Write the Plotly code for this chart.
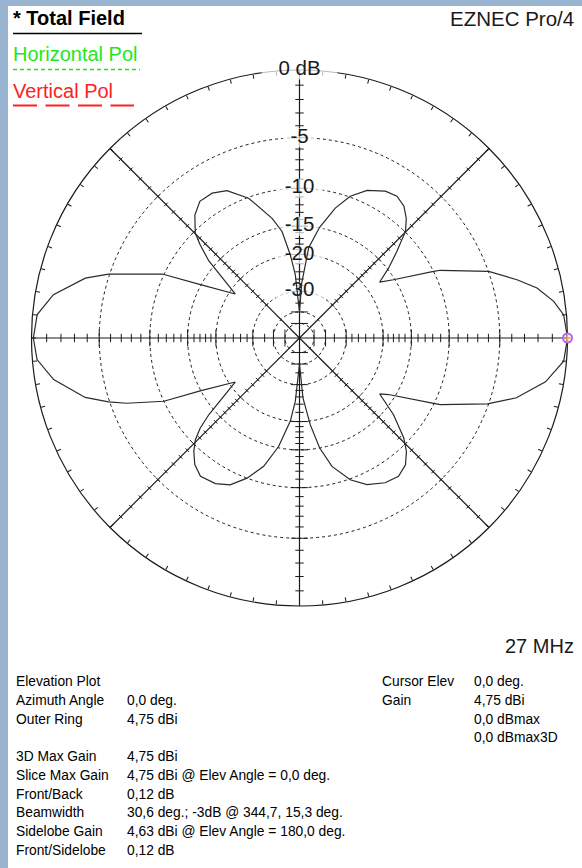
import numpy as np
import plotly.graph_objects as go

W, H = 582, 868

# ---------------- data ----------------
# Elevation angle (deg) and relative gain (dB, 0 dB = 4.75 dBi)
theta_deg = [0, 5.0, 8.2, 11.9, 15.0, 19.4, 25.7, 26.4, 31.8, 34.9, 38.1, 41.6, 45.2,
             48.3, 51.6, 55.5, 59.7, 65.4, 70.3, 74.6, 79.7, 84.2, 87.7, 90,
             93.8, 96.3, 99.3, 102.9, 110.0, 116.2, 121.1, 126.1, 130.4, 134.8,
             136.8, 139.6, 145.6, 151.7, 155.0, 161.5, 164.4, 170.0, 174.9, 180,
             184.7, 189.6, 195.5, 198.5, 200.7, 205.0, 208.0, 214.4, 220.2, 222.2,
             224.3, 227.0, 230.4, 234.4, 240.0, 244.7, 249.5, 254.4, 259.1, 263.7,
             266.2, 270,
             273.3, 277.1, 280.4, 284.2, 289.7, 294.7, 300.6, 305.6, 309.9, 313.3,
             316.2, 320.8, 325.1, 327.6, 334.0, 334.7, 340.7, 344.6, 349.9, 355.0, 360]
gain_db = [0.0, -0.18, -0.73, -1.70, -2.99, -4.97, -9.27, -9.99, -15.2, -17.3, -14.8, -12.4, -9.9,
           -8.8, -8.0, -7.6, -7.8, -8.6, -9.9, -11.8, -14.9, -18.6, -27.3, -40.0,
           -24.7, -20.0, -15.6, -13.4, -10.1, -8.4, -7.9, -7.9, -8.7, -10.2,
           -11.6, -13.9, -21.2, -14.9, -9.8, -4.9, -3.2, -1.2, -0.3, -0.12,
           -0.3, -1.24, -3.2, -4.9, -6.4, -10.0, -14.9, -21.2, -14.0, -11.9,
           -10.5, -9.4, -8.4, -7.8, -8.0, -8.6, -10.0, -12.0, -15.2, -20.0,
           -24.7, -40.0,
           -25.7, -19.2, -15.0, -12.1, -9.9, -8.7, -8.0, -7.8, -8.3, -9.3,
           -10.6, -13.6, -17.3, -16.0, -10.05, -9.3, -5.1, -3.0, -1.2, -0.18, 0.0]

ring_db = [-5, -10, -15, -20, -30, -40, -50]
label_db = [0, -5, -10, -15, -20, -30]
label_text = ["0 dB", "-5", "-10", "-15", "-20", "-30"]
label_box_w = [54, 24, 34, 34, 34, 34]

minor_db = [-1, -2, -3, -4, -6, -7, -8, -9, -11, -12, -13, -14, -16, -17, -18, -19,
            -22, -24, -26, -28, -35]
diag_db = list(range(-1, -21, -1)) + [-22, -24, -26, -28, -30]

info_labels = ["Elevation Plot", "Azimuth Angle", "Outer Ring", "3D Max Gain",
               "Slice Max Gain", "Front/Back", "Beamwidth", "Sidelobe Gain", "Front/Sidelobe"]
info_values = ["", "0,0 deg.", "4,75 dBi", "4,75 dBi",
               "4,75 dBi @ Elev Angle = 0,0 deg.", "0,12 dB",
               "30,6 deg.; -3dB @ 344,7, 15,3 deg.",
               "4,63 dBi @ Elev Angle = 180,0 deg.", "0,12 dB"]
cursor_labels = ["Cursor Elev", "Gain", "", ""]
cursor_values = ["0,0 deg.", "4,75 dBi", "0,0 dBmax", "0,0 dBmax3D"]


def arrl(db):
    """ARRL log scale: radius shrinks by 0.89 every 2 dB."""
    return 0.89 ** (-np.asarray(db, dtype=float) / 2.0)


FONT = "Liberation Sans, Arial, sans-serif"
INK = "#1a1a1a"

fig = go.Figure()

# spokes
for a in [0, 45, 90, 135]:
    fig.add_trace(go.Scatterpolar(r=[1, 0, 1], theta=[a, a, a + 180], mode="lines",
                                  line=dict(color=INK, width=1.2), hoverinfo="skip",
                                  showlegend=False))

# ticks on horizontal / vertical spokes
for angs, sym in [([0, 180], "line-ns"), ([90, 270], "line-ew")]:
    for dbs, size in [(minor_db, 6), (ring_db, 12)]:
        th = [a for a in angs for _ in dbs]
        rr = list(arrl(dbs)) * len(angs)
        fig.add_trace(go.Scatterpolar(r=rr, theta=th, mode="markers",
                                      marker=dict(symbol=sym, size=size,
                                                  line=dict(color=INK, width=1)),
                                      hoverinfo="skip", showlegend=False))
# ticks on diagonals
for angs, sym in [([45, 225], "line-nw"), ([135, 315], "line-ne")]:
    th = [a for a in angs for _ in diag_db]
    rr = list(arrl(diag_db)) * len(angs)
    fig.add_trace(go.Scatterpolar(r=rr, theta=th, mode="markers",
                                  marker=dict(symbol=sym, size=3.5,
                                              line=dict(color=INK, width=1)),
                                  hoverinfo="skip", showlegend=False))

# ring labels with white boxes
fig.add_trace(go.Scatterpolar(r=arrl(label_db), theta=[90] * len(label_db), mode="markers",
                              marker=dict(symbol="line-ew", size=label_box_w,
                                          line=dict(color="white", width=19)),
                              hoverinfo="skip", showlegend=False))
fig.add_trace(go.Scatterpolar(r=arrl(label_db), theta=[90] * len(label_db), mode="text",
                              text=label_text, textposition="middle center",
                              textfont=dict(family=FONT, size=20.5, color=INK),
                              hoverinfo="skip", showlegend=False))

# pattern
fig.add_trace(go.Scatterpolar(r=arrl(gain_db), theta=theta_deg, mode="lines",
                              line=dict(color="#2a2a2a", width=1.2),
                              hoverinfo="skip", showlegend=False))

# cursor
fig.add_trace(go.Scatterpolar(r=arrl([gain_db[0]]), theta=[theta_deg[0]], mode="markers",
                              marker=dict(symbol="circle-open", size=9,
                                          line=dict(color="#e23ce2", width=2)),
                              hoverinfo="skip", showlegend=False))
fig.add_trace(go.Scatterpolar(r=arrl([gain_db[0]]), theta=[theta_deg[0]], mode="markers",
                              marker=dict(symbol="cross-thin-open", size=6,
                                          line=dict(color="#20c020", width=1.5)),
                              hoverinfo="skip", showlegend=False))

cx, cy, R = 299.5, 338.0, 268.0
fig.update_layout(
    width=W, height=H,
    margin=dict(l=0, r=0, t=0, b=0),
    paper_bgcolor="white",
    showlegend=False,
    polar=dict(
        domain=dict(x=[(cx - R) / W, (cx + R) / W], y=[1 - (cy + R) / H, 1 - (cy - R) / H]),
        bgcolor="white",
        radialaxis=dict(range=[0, 1], tickvals=list(arrl(ring_db)), showticklabels=False,
                        ticks="", showline=False, showgrid=True, gridcolor=INK,
                        gridwidth=1, griddash="3px,3px", layer="below traces"),
        angularaxis=dict(rotation=0, direction="counterclockwise",
                         tickvals=list(range(0, 360, 5)), ticks="inside", ticklen=4,
                         tickcolor=INK, tickwidth=1, showticklabels=False, showgrid=False,
                         showline=True, linecolor=INK, linewidth=1.2, layer="below traces"),
    ),
)


def px_x(x):
    return x / W


def px_y(y):
    return 1 - y / H


ann = []


def text(x, y, s, size, color="black", anchor="left", bold=False):
    if not s:
        return
    ann.append(dict(x=px_x(x), y=px_y(y), xref="paper", yref="paper",
                    text=(f"<b>{s}</b>" if bold else s),
                    showarrow=False, xanchor=anchor, yanchor="middle", borderpad=0,
                    font=dict(family=FONT, size=size, color=color)))


text(12, 18.5, "* Total Field", 20, "black", bold=True)
text(12, 54, "Horizontal Pol", 20, "#1ee61e")
text(12, 90.5, "Vertical Pol", 20, "#ff2020")
text(575, 18.5, "EZNEC Pro/4", 20.5, INK, anchor="right")
text(575, 646, "27 MHz", 20, INK, anchor="right")

info_y = [681.5, 700.5, 719.5, 756.5, 775, 794, 812.5, 831.5, 850.5]
for lab, val, y in zip(info_labels, info_values, info_y):
    text(15, y, lab, 13.8)
    text(126, y, val, 13.8)
cur_y = [681.5, 700.5, 719, 737.5]
for lab, val, y in zip(cursor_labels, cursor_values, cur_y):
    text(381, y, lab, 13.8)
    text(472.5, y, val, 13.8)

fig.update_layout(annotations=ann)

shapes = [
    dict(type="rect", xref="paper", yref="paper", x0=0, x1=px_x(8), y0=0, y1=1,
         fillcolor="#99b4d1", line=dict(width=0)),
    dict(type="rect", xref="paper", yref="paper", x0=0, x1=1, y0=px_y(6), y1=1,
         fillcolor="#99b4d1", line=dict(width=0)),
    dict(type="line", xref="paper", yref="paper", x0=px_x(13), x1=px_x(142),
         y0=px_y(33.5), y1=px_y(33.5), line=dict(color="black", width=1.5)),
    dict(type="line", xref="paper", yref="paper", x0=px_x(13), x1=px_x(140),
         y0=px_y(69.5), y1=px_y(69.5), line=dict(color="#1ee61e", width=1.5, dash="4px,3px")),
    dict(type="line", xref="paper", yref="paper", x0=px_x(13), x1=px_x(134),
         y0=px_y(105.5), y1=px_y(105.5), line=dict(color="#ff2020", width=2, dash="24px,8.5px")),
]
fig.update_layout(shapes=shapes)

fig.write_html("out.html", config={"displayModeBar": False},
               post_script="document.body.style.margin='0';document.body.style.overflow='hidden';")
